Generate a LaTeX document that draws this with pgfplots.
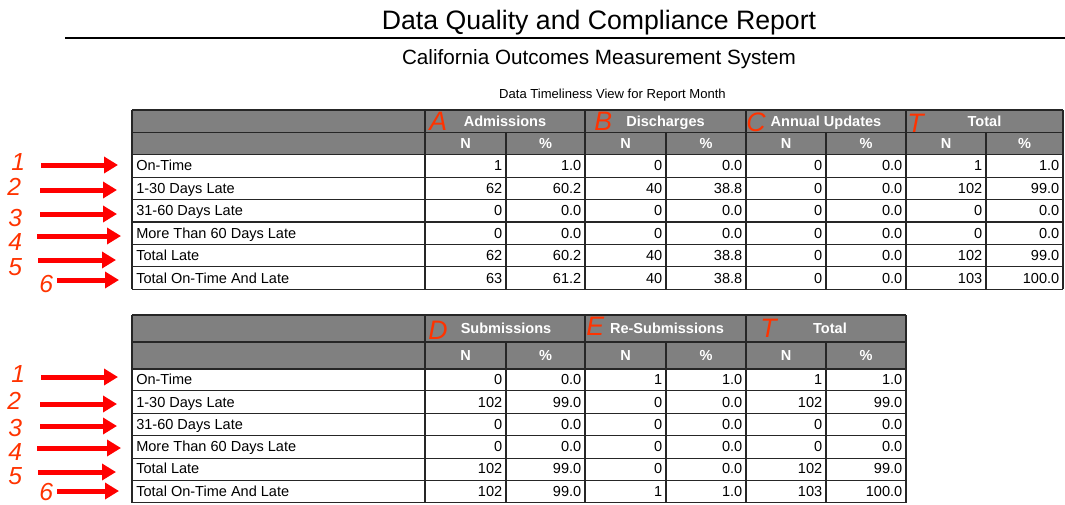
\documentclass[border=0pt]{standalone}
\usepackage{fontspec}
\setmainfont{Liberation Sans}
\usepackage{pgfplots}
\usepackage{pgfplotstable}
\pgfplotsset{compat=1.18}
\usetikzlibrary{arrows.meta}
\definecolor{hdr}{HTML}{808080}
\definecolor{redmark}{HTML}{FF3300}
\definecolor{arrred}{HTML}{FF0000}
\newcommand{\tabfont}{\fontsize{10.9}{12}\selectfont}
\newcommand{\hdrfont}{\fontsize{10.9}{12}\selectfont\bfseries}

% Table 1: Admissions (A), Discharges (B), Annual Updates (C), Total (T)
\pgfplotstableread{
AN AP BN BP CN CP TN TP
1 1.0 0 0.0 0 0.0 1 1.0
62 60.2 40 38.8 0 0.0 102 99.0
0 0.0 0 0.0 0 0.0 0 0.0
0 0.0 0 0.0 0 0.0 0 0.0
62 60.2 40 38.8 0 0.0 102 99.0
63 61.2 40 38.8 0 0.0 103 100.0
}\tableA

% Table 2: Submissions (D), Re-Submissions (E), Total (T)
\pgfplotstableread{
DN DP EN EP TN TP
0 0.0 1 1.0 1 1.0
102 99.0 0 0.0 102 99.0
0 0.0 0 0.0 0 0.0
0 0.0 0 0.0 0 0.0
102 99.0 0 0.0 102 99.0
102 99.0 1 1.0 103 100.0
}\tableB

\pgfplotstableread[col sep=comma]{
row,lab
1,On-Time
2,1-30 Days Late
3,31-60 Days Late
4,More Than 60 Days Late
5,Total Late
6,Total On-Time And Late
}\labels

% #1 table, #2 column, #3 x (right edge), #4 first baseline, #5 row pitch
\newcommand{\numcol}[5]{%
  \addplot[draw=none, mark=none, nodes near coords, point meta=explicit symbolic,
    every node near coord/.style={anchor=base east, inner sep=0pt, font=\tabfont, text=black}]
    table[x expr=#3, y expr={#4+#5*\coordindex}, meta=#2] {#1};}
\newcommand{\labcol}[3]{%
  \addplot[draw=none, mark=none, nodes near coords, point meta=explicit symbolic,
    every node near coord/.style={anchor=base west, inner sep=0pt, font=\tabfont, text=black}]
    table[x expr=136, y expr={#1+#2*\coordindex}, meta=lab] {#3};}

\begin{document}
\begin{tikzpicture}
\begin{axis}[
  scale only axis, width=798.75pt, height=378pt,
  xmin=0, xmax=1065, ymin=0, ymax=504, y dir=reverse,
  hide axis, clip=false,
]
\coordinate (bl) at (axis cs:0,504);
\coordinate (tr) at (axis cs:1065,0);

% titles
\node[anchor=base, inner sep=0pt, font=\fontsize{20}{22}\selectfont] at (axis cs:599,29.5) {Data Quality and Compliance Report};
\draw[line width=1.3pt, black] (axis cs:65,38.3) -- (axis cs:1065,38.3);
\node[anchor=base, inner sep=0pt, font=\fontsize{15.5}{17}\selectfont] at (axis cs:599,64.5) {California Outcomes Measurement System};
\node[anchor=base, inner sep=0pt, font=\fontsize{9.8}{11}\selectfont] at (axis cs:612.5,98.5) {Data Timeliness View for Report Month};

% ---------- Table 1 ----------
\fill[hdr] (axis cs:132,110) rectangle (axis cs:1063,154.3);
\pgfplotsinvokeforeach{110,132.3,154.3,177.3,199.3,222,244.3,266.7,289.3}{
  \draw[line width=0.8pt, black!85] (axis cs:132,#1) -- (axis cs:1063,#1);}
\pgfplotsinvokeforeach{132,425,585,746,906,1063}{
  \draw[line width=0.8pt, black!85] (axis cs:#1,110) -- (axis cs:#1,289.3);}
\pgfplotsinvokeforeach{506,666,826,986}{
  \draw[line width=0.8pt, black!85] (axis cs:#1,132.3) -- (axis cs:#1,289.3);}

\node[anchor=base, inner sep=0pt, text=white, font=\hdrfont] at (axis cs:505,126) {Admissions};
\node[anchor=base, inner sep=0pt, text=white, font=\hdrfont] at (axis cs:665.5,126) {Discharges};
\node[anchor=base, inner sep=0pt, text=white, font=\hdrfont] at (axis cs:826,126) {Annual Updates};
\node[anchor=base, inner sep=0pt, text=white, font=\hdrfont] at (axis cs:984.5,126) {Total};
\pgfplotsinvokeforeach{465.5,625.5,786,946}{
  \node[anchor=base, inner sep=0pt, text=white, font=\hdrfont] at (axis cs:#1,148) {N};}
\pgfplotsinvokeforeach{545.5,706,866,1024.5}{
  \node[anchor=base, inner sep=0pt, text=white, font=\hdrfont] at (axis cs:#1,148) {\%};}

\labcol{170.8}{22.5}{\labels}
\numcol{\tableA}{AN}{502.5}{170.8}{22.5}
\numcol{\tableA}{AP}{581.5}{170.8}{22.5}
\numcol{\tableA}{BN}{662.5}{170.8}{22.5}
\numcol{\tableA}{BP}{742.5}{170.8}{22.5}
\numcol{\tableA}{CN}{822.5}{170.8}{22.5}
\numcol{\tableA}{CP}{902.5}{170.8}{22.5}
\numcol{\tableA}{TN}{982.5}{170.8}{22.5}
\numcol{\tableA}{TP}{1059.5}{170.8}{22.5}

% ---------- Table 2 ----------
\fill[hdr] (axis cs:132,315) rectangle (axis cs:906,369);
\pgfplotsinvokeforeach{315,342,369,390.7,413.3,435.7,458.3,480.7,502.7}{
  \draw[line width=0.8pt, black!85] (axis cs:132,#1) -- (axis cs:906,#1);}
\pgfplotsinvokeforeach{132,425,585,746,906}{
  \draw[line width=0.8pt, black!85] (axis cs:#1,315) -- (axis cs:#1,502.7);}
\pgfplotsinvokeforeach{506,666,826}{
  \draw[line width=0.8pt, black!85] (axis cs:#1,342) -- (axis cs:#1,502.7);}

\node[anchor=base, inner sep=0pt, text=white, font=\hdrfont] at (axis cs:506,333.5) {Submissions};
\node[anchor=base, inner sep=0pt, text=white, font=\hdrfont] at (axis cs:667,333.5) {Re-Submissions};
\node[anchor=base, inner sep=0pt, text=white, font=\hdrfont] at (axis cs:830,333.5) {Total};
\pgfplotsinvokeforeach{465.5,625.5,786}{
  \node[anchor=base, inner sep=0pt, text=white, font=\hdrfont] at (axis cs:#1,360.5) {N};}
\pgfplotsinvokeforeach{545.5,706,866}{
  \node[anchor=base, inner sep=0pt, text=white, font=\hdrfont] at (axis cs:#1,360.5) {\%};}

\labcol{384.8}{22.28}{\labels}
\numcol{\tableB}{DN}{502.5}{384.8}{22.28}
\numcol{\tableB}{DP}{581.5}{384.8}{22.28}
\numcol{\tableB}{EN}{662.5}{384.8}{22.28}
\numcol{\tableB}{EP}{742.5}{384.8}{22.28}
\numcol{\tableB}{TN}{822.5}{384.8}{22.28}
\numcol{\tableB}{TP}{902.5}{384.8}{22.28}

% ---------- red annotations ----------
\tikzset{redlet/.style={anchor=base west, inner sep=0pt, text=redmark, font=\fontsize{20}{22}\selectfont\itshape},
  reddig/.style={anchor=base west, inner sep=0pt, text=redmark, font=\fontsize{18.5}{20}\selectfont\itshape},
  redarr/.style={arrred, line width=3.75pt, -{Triangle[length=10.5pt, width=12pt]}}}
\node[redlet] at (axis cs:429,130) {A};
\node[redlet] at (axis cs:594,130) {B};
\node[redlet] at (axis cs:746,131) {C};
\node[redlet] at (axis cs:907,132) {T};
\node[redlet] at (axis cs:428,339) {D};
\node[redlet] at (axis cs:586,335) {E};
\node[redlet] at (axis cs:760,337) {T};

\node[reddig] at (axis cs:11,170.5) {1};
\node[reddig] at (axis cs:7,195) {2};
\node[reddig] at (axis cs:8,226) {3};
\node[reddig] at (axis cs:8,250.5) {4};
\node[reddig] at (axis cs:8,275.5) {5};
\node[reddig] at (axis cs:39,292.5) {6};
\node[reddig] at (axis cs:11,382.5) {1};
\node[reddig] at (axis cs:7,409.5) {2};
\node[reddig] at (axis cs:8,436) {3};
\node[reddig] at (axis cs:8,460.5) {4};
\node[reddig] at (axis cs:8,484.5) {5};
\node[reddig] at (axis cs:39,500.5) {6};

\draw[redarr] (axis cs:41,165) -- (axis cs:118,165);
\draw[redarr] (axis cs:40,190) -- (axis cs:117,190);
\draw[redarr] (axis cs:40,214) -- (axis cs:117,214);
\draw[redarr] (axis cs:37,236) -- (axis cs:121,236);
\draw[redarr] (axis cs:38,260) -- (axis cs:116,260);
\draw[redarr] (axis cs:57,280) -- (axis cs:119,280);
\draw[redarr] (axis cs:41,377) -- (axis cs:118,377);
\draw[redarr] (axis cs:40,404) -- (axis cs:117,404);
\draw[redarr] (axis cs:40,426) -- (axis cs:117,426);
\draw[redarr] (axis cs:37,448) -- (axis cs:121,448);
\draw[redarr] (axis cs:38,472) -- (axis cs:116,472);
\draw[redarr] (axis cs:57,491) -- (axis cs:119,491);
\end{axis}
\pgfresetboundingbox
\useasboundingbox (bl) rectangle (tr);
\end{tikzpicture}
\end{document}
